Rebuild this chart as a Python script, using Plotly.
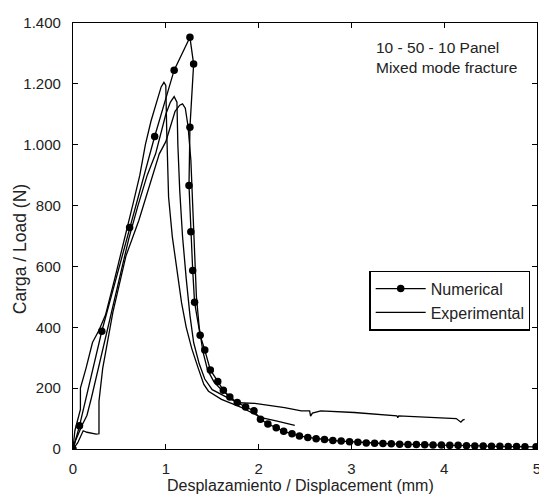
import plotly.graph_objects as go

# Numerical curve (displacement mm, load N)
num_x = [0.0, 0.07, 0.31, 0.61, 0.88, 1.09, 1.26, 1.30, 1.26, 1.25, 1.27, 1.29, 1.31, 1.37, 1.42,
         1.48, 1.56, 1.62, 1.69, 1.77, 1.86, 1.95, 2.02, 2.10, 2.19, 2.27, 2.36, 2.44, 2.53, 2.62,
         2.71, 2.80, 2.89, 2.98, 3.07, 3.16, 3.25, 3.34, 3.43, 3.52, 3.61, 3.70, 3.79, 3.88, 3.97,
         4.06, 4.15, 4.24, 4.33, 4.42, 4.51, 4.60, 4.69, 4.78, 4.87, 4.99]
num_y = [0, 76, 387, 728, 1027, 1245, 1353, 1265, 1057, 866, 714, 587, 482, 374, 325,
         260, 222, 193, 171, 153, 138, 126, 98, 82, 70, 58, 50, 43, 38, 34,
         31, 28, 26, 24, 22, 20, 19, 18, 17, 16, 15, 15, 14, 13, 13,
         12, 12, 11, 10, 10, 9, 9, 8, 8, 7, 7]

# Experimental specimen A
expA_x = [0.0, 0.02, 0.08, 0.08, 0.14, 0.21, 0.28, 0.35, 0.45, 0.55, 0.65, 0.72, 0.78, 0.84, 0.89,
          0.95, 0.98, 1.00, 1.01, 1.03, 1.07, 1.12, 1.17, 1.22, 1.28, 1.35, 1.41, 1.46, 1.60, 1.82,
          2.03, 2.20, 2.39]
expA_y = [0, 60, 130, 200, 265, 350, 390, 440, 560, 690, 810, 900, 1000, 1077, 1132,
          1190, 1205, 1195, 1045, 828, 698, 590, 480, 400, 330, 265, 212, 190, 163, 136,
          103, 92, 78]

# Experimental specimen B
expB_x = [0.0, 0.03, 0.10, 0.15, 0.20, 0.30, 0.40, 0.50, 0.60, 0.70, 0.80, 0.89, 0.95, 1.00, 1.05,
          1.09, 1.12, 1.13, 1.15, 1.18, 1.22, 1.26, 1.30, 1.36, 1.42, 1.50, 1.67, 1.78, 1.96, 2.28,
          2.46, 2.55, 2.56, 2.58, 2.67, 3.03, 3.49, 3.50, 3.51, 3.88, 4.13, 4.18, 4.20, 4.22]
expB_y = [0, 30, 80, 110, 170, 300, 430, 560, 690, 800, 900, 970, 1040, 1100, 1140,
          1158, 1140, 1000, 850, 700, 560, 440, 350, 280, 230, 195, 168, 152, 150, 136,
          125, 125, 108, 118, 125, 120, 109, 103, 109, 103, 100, 88, 95, 97]

# Experimental specimen C
expC_x = [0.0, 0.05, 0.11, 0.15, 0.25, 0.28, 0.28, 0.32, 0.43, 0.57, 0.71, 0.85, 0.93, 1.00, 1.05,
          1.10, 1.15, 1.18, 1.21, 1.24, 1.27, 1.29, 1.31, 1.33, 1.36, 1.40, 1.45, 1.52, 1.60, 1.70]
expC_y = [0, 20, 60, 55, 49, 50, 157, 265, 450, 634, 752, 893, 970, 1010, 1060,
          1110, 1130, 1134, 1120, 1060, 950, 800, 650, 500, 400, 320, 260, 220, 195, 170]

y_ticks = [0, 200, 400, 600, 800, 1000, 1200, 1400]
y_labels = ["0", "200", "400", "600", "800", "1.000", "1.200", "1.400"]
x_ticks = [0, 1, 2, 3, 4, 5]

FONT = "Liberation Sans, Arial, sans-serif"
TXT = "#222"
line_style = dict(color="black", width=1.3)

fig = go.Figure()
fig.add_trace(go.Scatter(x=num_x, y=num_y, mode="lines+markers", name="Numerical",
                         line=line_style, marker=dict(color="black", size=7.5, symbol="circle")))
for i, (xs, ys) in enumerate([(expA_x, expA_y), (expB_x, expB_y), (expC_x, expC_y)]):
    fig.add_trace(go.Scatter(x=xs, y=ys, mode="lines", name="Experimental",
                             legendgroup="exp", showlegend=(i == 0), line=line_style))

axis_common = dict(showline=True, linecolor="black", linewidth=1.2, mirror="ticks",
                   ticks="inside", ticklen=5, tickcolor="black", showgrid=False, zeroline=False,
                   tickfont=dict(family=FONT, size=15, color=TXT))

fig.update_layout(
    width=539, height=486,
    margin=dict(l=65, r=6, t=9, b=45),
    paper_bgcolor="white", plot_bgcolor="white",
    font=dict(family=FONT, size=15, color=TXT),
    xaxis=dict(range=[0, 5], tickvals=x_ticks, ticklabelstandoff=6, **axis_common),
    yaxis=dict(range=[0, 1400], tickvals=y_ticks, ticktext=y_labels, ticklabelstandoff=8,
               **axis_common),
    legend=dict(x=0.639, y=0.419, xanchor="left", yanchor="top",
                bordercolor="black", borderwidth=1.2, bgcolor="white",
                font=dict(family=FONT, size=16, color=TXT), itemwidth=50,
                tracegroupgap=0),
    showlegend=True,
    annotations=[
        dict(text="10 - 50 - 10 Panel<br>Mixed mode fracture", xref="paper", yref="paper",
             x=0.648, y=0.968, xanchor="left", yanchor="top", showarrow=False, align="left",
             font=dict(family=FONT, size=15.5, color=TXT)),
        dict(text="Desplazamiento / Displacement (mm)", xref="paper", yref="paper",
             x=0.49, y=-0.085, xanchor="center", yanchor="middle", showarrow=False,
             font=dict(family=FONT, size=16, color=TXT)),
        dict(text="Carga / Load (N)", xref="paper", yref="paper", textangle=-90,
             x=-0.1155, y=0.47, xanchor="center", yanchor="middle", showarrow=False,
             borderpad=0, font=dict(family=FONT, size=17.5, color=TXT)),
    ],
)

fig.write_html("out.html")
